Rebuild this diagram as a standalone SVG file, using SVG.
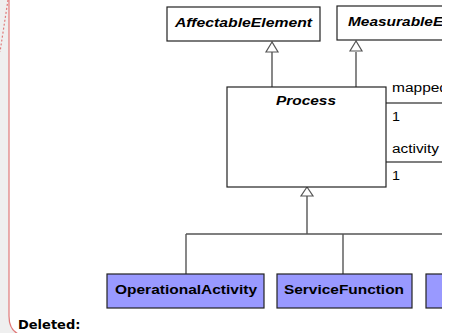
<svg xmlns="http://www.w3.org/2000/svg" width="449" height="333" viewBox="0 0 449 333">
  <style>
    .box { fill: #ffffff; stroke: #222222; stroke-width: 1.2; }
    .cls { fill: #9999ff; stroke: #222222; stroke-width: 1.2; }
    .ln { fill: none; stroke: #555555; stroke-width: 1.4; }
    .tri { fill: #ffffff; stroke: #555555; stroke-width: 1.2; }
    .bi { font-family: "Liberation Sans", Arial, sans-serif; font-size: 12px; font-weight: bold; font-style: italic; fill: #000; }
    .b { font-family: "Liberation Sans", Arial, sans-serif; font-size: 12px; font-weight: bold; fill: #000; }
    .r { font-family: "Liberation Sans", Arial, sans-serif; font-size: 12px; fill: #000; }
  </style>
  <defs>
    <clipPath id="clip"><rect x="0" y="0" width="442" height="333"/></clipPath>
  </defs>
  <rect x="0" y="0" width="449" height="333" fill="#efefef"/>
  <path d="M9,-10 L470,-10 L470,316 Q470,336 450,336 L29,336 Q9,336 9,316 Z" fill="#ffffff" stroke="#e07a7a" stroke-width="1.2"/>
  <line x1="8" y1="0" x2="0" y2="52" stroke="#e07a7a" stroke-width="1.2" stroke-dasharray="2,2"/>
  <g clip-path="url(#clip)">
    <g id="connectors">
      <line class="ln" x1="272" y1="52" x2="272" y2="87"/>
      <polygon class="tri" points="272,42 266,52 278,52"/>
      <line class="ln" x1="356" y1="52" x2="356" y2="87"/>
      <polygon class="tri" points="356,41 350,51 362,51"/>
      <line class="ln" x1="386" y1="103" x2="449" y2="103"/>
      <line class="ln" x1="386" y1="162" x2="449" y2="162"/>
      <line class="ln" x1="307" y1="196" x2="307" y2="234"/>
      <polygon class="tri" points="307,187 301,196 313,196"/>
      <line class="ln" x1="186" y1="234" x2="449" y2="234"/>
      <line class="ln" x1="186" y1="234" x2="186" y2="274"/>
      <line class="ln" x1="343" y1="234" x2="343" y2="274"/>
      <text class="r" x="392" y="92" textLength="56" lengthAdjust="spacingAndGlyphs">mapped</text>
      <text class="r" x="392" y="121" textLength="8" lengthAdjust="spacingAndGlyphs">1</text>
      <text class="r" x="392" y="153" textLength="47" lengthAdjust="spacingAndGlyphs">activity</text>
      <text class="r" x="392" y="180" textLength="8" lengthAdjust="spacingAndGlyphs">1</text>
    </g>
    <g id="AffectableElement">
      <rect class="box" x="167" y="7" width="153" height="34"/>
      <text class="bi" x="175" y="27" textLength="137" lengthAdjust="spacingAndGlyphs">AffectableElement</text>
    </g>
    <g id="MeasurableElement">
      <rect class="box" x="337" y="6" width="160" height="34"/>
      <text class="bi" x="348" y="26" textLength="145" lengthAdjust="spacingAndGlyphs">MeasurableElement</text>
    </g>
    <g id="Process">
      <rect class="box" x="227" y="87" width="159" height="100"/>
      <text class="bi" x="276" y="105" textLength="60" lengthAdjust="spacingAndGlyphs">Process</text>
    </g>
    <g id="OperationalActivity">
      <rect class="cls" x="107" y="274" width="157" height="34"/>
      <text class="b" x="115" y="294" textLength="142" lengthAdjust="spacingAndGlyphs">OperationalActivity</text>
    </g>
    <g id="ServiceFunction">
      <rect class="cls" x="277" y="274" width="135" height="34"/>
      <text class="b" x="284" y="294" textLength="120" lengthAdjust="spacingAndGlyphs">ServiceFunction</text>
    </g>
    <g id="ThirdClass">
      <rect class="cls" x="426" y="274" width="60" height="34"/>
    </g>
  </g>
  <text x="18" y="329" font-family="'DejaVu Sans', Verdana, sans-serif" font-size="13" font-weight="bold" fill="#000">Deleted:</text>
</svg>
